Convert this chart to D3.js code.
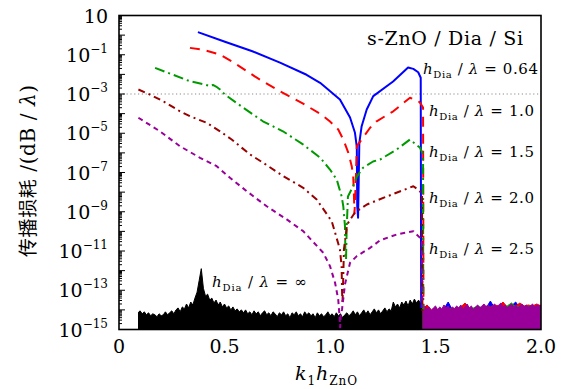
<!DOCTYPE html>
<html><head><meta charset="utf-8">
<script src="https://cdn.jsdelivr.net/npm/d3@7"></script>
<style>body{margin:0;background:#fff}svg{display:block}</style>
</head><body>
<svg id="c" width="569" height="389"></svg>
<script>
// ---- data (loss values given as log10 of dB/λ) ----
const blueK   = [0.374,0.502,0.632,0.763,0.889,0.953,0.991,1.047,1.095,1.118,1.127,1.129,1.133,1.136,1.139,1.150,1.174,1.205,1.299,1.370,1.395,1.418,1.430,1.432];
const blueLog = [0.15,-0.34,-0.82,-1.40,-2.02,-2.43,-2.77,-3.28,-4.20,-4.96,-5.70,-8.72,-9.30,-7.50,-5.49,-4.64,-3.79,-3.11,-2.36,-1.65,-1.72,-1.89,-2.17,-13.9];

const redK   = [0.336,0.392,0.479,0.545,0.653,0.763,0.866,0.960,1.000,1.039,1.063,1.087,1.103,1.110,1.113,1.116,1.122,1.127,1.150,1.190,1.221,1.300,1.379,1.418,1.427,1.441,1.443];
const redLog = [-0.65,-0.73,-0.99,-1.41,-2.17,-2.86,-3.45,-4.05,-4.40,-4.81,-5.32,-6.00,-6.68,-7.19,-8.00,-9.10,-7.50,-5.66,-5.32,-4.72,-4.39,-3.88,-3.19,-3.35,-3.45,-3.69,-13.95];

const greenK   = [0.171,0.336,0.408,0.431,0.445,0.460,0.479,0.502,0.589,0.682,0.777,0.872,0.953,1.000,1.032,1.055,1.063,1.071,1.073,1.076,1.079,1.085,1.109,1.128,1.156,1.204,1.237,1.316,1.379,1.427,1.441,1.442];
const greenLog = [-1.67,-2.35,-2.52,-2.60,-2.54,-2.62,-2.77,-3.03,-3.70,-4.39,-4.90,-5.57,-6.24,-6.85,-7.36,-8.21,-8.72,-9.74,-11.09,-11.43,-9.90,-8.22,-7.71,-7.20,-6.76,-6.44,-6.34,-5.83,-5.32,-5.74,-6.08,-14.0];

const brownK   = [0.092,0.147,0.210,0.289,0.336,0.416,0.479,0.534,0.621,0.684,0.779,0.873,0.937,0.992,1.008,1.024,1.047,1.055,1.057,1.059,1.062,1.066,1.081,1.118,1.175,1.270,1.395,1.417,1.436,1.438];
const brownLog = [-2.77,-3.03,-3.37,-3.88,-4.13,-4.47,-4.90,-5.32,-6.08,-6.51,-7.19,-7.78,-8.38,-9.23,-9.48,-10.06,-10.92,-11.77,-13.00,-13.70,-12.70,-10.92,-9.65,-9.04,-8.63,-8.22,-7.70,-7.87,-8.07,-14.1];

const purpleK   = [0.092,0.194,0.289,0.384,0.463,0.526,0.605,0.700,0.795,0.873,0.968,1.000,1.024,1.039,1.045,1.048,1.051,1.057,1.071,1.095,1.127,1.190,1.237,1.316,1.395,1.427,1.436,1.438];
const purpleLog = [-4.21,-4.90,-5.66,-6.25,-6.68,-7.27,-7.95,-8.72,-9.39,-9.99,-11.09,-11.77,-12.62,-13.47,-14.30,-14.90,-14.30,-13.98,-12.70,-11.60,-11.26,-10.84,-10.46,-10.16,-9.99,-10.33,-10.52,-13.9];

// numerical-noise floor for h_Dia/λ = ∞ (x from 0.09 in steps of 0.01)
const blackNoiseStart = 0.09, blackNoiseStep = 0.01;
const blackNoiseLog = [
-14.15,-14.05,-14.2,-14.1,-14.25,-14.15,-14.3,-14.2,-14.25,-14.35,
-14.2,-14.3,-14.25,-14.1,-14.25,-14.15,-14.05,-14.2,-14.0,-13.9,
-14.1,-13.85,-13.95,-13.7,-13.9,-13.6,-13.75,-13.4,-13.1,-12.5,
-11.9,-12.9,-13.3,-13.2,-13.5,-13.4,-13.65,-13.5,-13.75,-13.6,
-13.85,-13.7,-13.9,-13.8,-14.0,-13.85,-14.05,-13.95,-14.1,-14.0,
-14.15,-14.0,-14.2,-14.1,-14.25,-14.05,-14.2,-14.1,-14.3,-14.15,
-14.05,-14.25,-14.15,-14.3,-14.1,-14.2,-14.35,-14.15,-14.25,-14.1,
-14.3,-14.2,-14.4,-14.15,-14.25,-14.1,-14.3,-14.2,-14.35,-14.1,
-14.25,-14.15,-14.3,-14.2,-14.4,-14.15,-14.3,-14.2,-14.35,-14.25,
-14.1,-14.3,-14.2,-14.35,-14.15,-14.3,-14.2,-14.4,-14.25,-14.15,
-14.3,-14.2,-14.05,-14.25,-14.1,-14.3,-14.15,-14.0,-14.2,-14.05,
-14.25,-14.1,-13.95,-14.15,-14.0,-14.2,-14.05,-13.9,-14.1,-13.95,
-14.05,-13.6,-13.85,-13.7,-13.9,-13.6,-13.75,-13.55,-13.8,-13.5,
-13.7,-13.45,-13.65,-13.5,-13.7,-13.6];

// noise floors beyond cut-off (x from 1.44)
const tailStart = 1.44;
const purpleTailStep = 0.01;
const purpleTailLog = [
-13.9,-13.8,-13.95,-13.85,-14.05,-13.9,-13.8,-14.0,-13.85,-13.95,
-13.75,-13.9,-13.8,-14.0,-13.85,-13.95,-13.8,-13.9,-13.75,-13.95,
-13.85,-13.7,-13.9,-13.8,-14.0,-13.85,-13.75,-13.9,-13.8,-13.7,
-13.85,-13.75,-13.9,-13.8,-13.7,-13.85,-13.75,-13.65,-13.85,-13.75,
-13.9,-13.8,-13.7,-13.85,-13.75,-13.9,-13.8,-13.7,-13.85,-13.75,
-13.85,-13.8,-13.7,-13.85,-13.75,-13.8,-13.75];
const otherTailStep = 0.02;
const blueTailLog  = [-13.9,-14.0,-14.1,-14.0,-14.1,-13.95,-13.6,-14.0,-14.05,-13.9,-14.0,-13.95,-14.1,-13.9,-14.0,-13.9,-13.55,-13.9,-13.85,-13.95,-13.9,-13.8,-13.6,-13.9,-13.85,-13.9,-13.85,-13.9,-13.85];
const redTailLog   = [-13.95,-13.75,-14.0,-13.9,-14.05,-13.9,-14.0,-13.9,-13.95,-13.85,-13.65,-13.9,-13.95,-13.85,-13.9,-13.8,-13.85,-13.75,-13.8,-13.6,-13.85,-13.75,-13.8,-13.65,-13.8,-13.75,-13.8,-13.7,-13.8];
const greenTailLog = [-14.0,-13.95,-14.1,-14.0,-13.95,-14.05,-13.9,-14.0,-13.85,-13.95,-13.9,-14.0,-13.9,-13.8,-13.9,-13.85,-13.9,-13.8,-13.9,-13.85,-13.8,-13.65,-13.85,-13.8,-13.9,-13.8,-13.85,-13.8,-13.85];
const brownTailLog = [-14.1,-14.05,-14.2,-14.1,-14.0,-14.15,-14.0,-14.1,-13.95,-14.05,-14.0,-14.1,-14.0,-13.9,-14.0,-13.95,-14.0,-13.9,-14.0,-13.95,-13.9,-13.85,-13.95,-13.9,-14.0,-13.9,-13.95,-13.9,-13.95];

const yTickExps = [1,-1,-3,-5,-7,-9,-11,-13,-15];
const xTickVals = [0,0.5,1.0,1.5,2.0];
const xTickLabels = ["0","0.5","1.0","1.5","2.0"];
const seriesLabels = ["0.64","1.0","1.5","2.0","2.5"];
const refLineLog = -3;

// ---- layout ----
const X0=119, X1=541, Y0=329.5, Y1=15.5;
const x = d3.scaleLinear().domain([0,2]).range([X0,X1]);
const y = d3.scaleLog().domain([1e-15,10]).range([Y0,Y1]);
const P = v => y(Math.pow(10, v));
const FONT = "'DejaVu Serif', 'Liberation Serif', serif";

const svg = d3.select('#c');
svg.append('defs').append('clipPath').attr('id','clip')
  .append('rect').attr('x',X0).attr('y',Y1).attr('width',X1-X0).attr('height',Y0-Y1);
const plot = svg.append('g').attr('clip-path','url(#clip)');

// reference line at 1e-3
plot.append('line').attr('x1',X0).attr('x2',X1).attr('y1',P(refLineLog)).attr('y2',P(refLineLog))
  .attr('stroke','#8a8a8a').attr('stroke-width',1).attr('stroke-dasharray','1.2,2.6');

const area = d3.area().x(d=>x(d[0])).y0(Y0+6).y1(d=>P(d[1])).curve(d3.curveLinear);
const line = d3.line().x(d=>x(d[0])).y(d=>P(d[1]));

function noisePts(start, step, arr){ return arr.map((v,i)=>[start+step*i, v]); }

// black noise floor
const blackPts = noisePts(blackNoiseStart, blackNoiseStep, blackNoiseLog);
plot.append('path').attr('d', area(blackPts)).attr('fill','#000');
plot.append('path').attr('d', line(blackPts)).attr('fill','none').attr('stroke','#000').attr('stroke-width',1);

const series = [
  {k:blueK, v:blueLog, c:'#0000ff', dash:null, tail:blueTailLog, step:otherTailStep},
  {k:redK, v:redLog, c:'#ff0000', dash:'10,7', tail:redTailLog, step:otherTailStep},
  {k:greenK, v:greenLog, c:'#009a00', dash:'10,4,2,4', tail:greenTailLog, step:otherTailStep},
  {k:brownK, v:brownLog, c:'#990000', dash:'7,4,2,4', tail:brownTailLog, step:otherTailStep},
  {k:purpleK, v:purpleLog, c:'#990099', dash:'5,4', tail:purpleTailLog, step:purpleTailStep}
];

// noise tails beyond cut-off
series.forEach(s=>{
  const pts = noisePts(tailStart, s.step, s.tail);
  plot.append('path').attr('d', area(pts)).attr('fill', s.c);
  plot.append('path').attr('d', line(pts)).attr('fill','none').attr('stroke', s.c).attr('stroke-width',1);
});

// main curves
series.forEach(s=>{
  const pts = s.k.map((k,i)=>[k, s.v[i]]);
  const p = plot.append('path').attr('d', line(pts)).attr('fill','none')
    .attr('stroke', s.c).attr('stroke-width', 2).attr('stroke-linejoin','round');
  if (s.dash) p.attr('stroke-dasharray', s.dash);
});

// ---- axes ----
const axg = svg.append('g');
// y ticks (inward)
for (let e=-15; e<=1; e++){
  for (let m=1; m<=9; m++){
    if (e===1 && m>1) break;
    const v = m*Math.pow(10,e);
    const yy = y(v);
    axg.append('line').attr('x1',X0).attr('x2',X0+(m===1?6:3)).attr('y1',yy).attr('y2',yy)
      .attr('stroke','#000').attr('stroke-width',1);
  }
}
axg.append('rect').attr('x',X0).attr('y',Y1).attr('width',X1-X0).attr('height',Y0-Y1)
  .attr('fill','none').attr('stroke','#000').attr('stroke-width',1.6);

// y tick labels
yTickExps.forEach(e=>{
  const t = axg.append('text').attr('x',108).attr('y',P(e)+7).attr('text-anchor','end')
    .attr('font-family',FONT).attr('font-size',19).attr('fill','#000');
  t.append('tspan').text('10');
  if (e!==1) t.append('tspan').attr('font-size',12).attr('dy',-9).text('\u2212'+Math.abs(e));
});
// x tick labels
xTickVals.forEach((v,i)=>{
  axg.append('text').attr('x',x(v)).attr('y',353).attr('text-anchor','middle')
    .attr('font-family',FONT).attr('font-size',19).text(xTickLabels[i]);
});

// x title
const xt = axg.append('text').attr('x',295).attr('y',380).attr('font-family',FONT).attr('font-size',19)
  .attr('textLength',62).attr('lengthAdjust','spacing');
xt.append('tspan').attr('font-style','italic').text('k');
xt.append('tspan').attr('font-size',12).attr('dy',5).text('1');
xt.append('tspan').attr('font-style','italic').attr('dy',-5).text('h');
xt.append('tspan').attr('font-size',12).attr('dy',5).text('ZnO');

// y title
const yt = axg.append('text').attr('transform','translate(35,171) rotate(-90)').attr('text-anchor','middle')
  .attr('textLength',172).attr('lengthAdjust','spacing');
yt.append('tspan').attr('font-family',"'Noto Sans CJK SC', sans-serif").attr('font-size',19).text('传播损耗');
yt.append('tspan').attr('font-family',FONT).attr('font-size',20).text(' /(dB / ');
yt.append('tspan').attr('font-family',FONT).attr('font-size',20).attr('font-style','italic').text('λ');
yt.append('tspan').attr('font-family',FONT).attr('font-size',20).text(')');

// structure label
axg.append('text').attr('x',367).attr('y',45).attr('font-family',FONT).attr('font-size',19)
  .attr('textLength',156).attr('lengthAdjust','spacing').text('s-ZnO / Dia / Si');

// series labels
function hLabel(xp, yp, val, w){
  const t = axg.append('text').attr('x',xp).attr('y',yp).attr('font-family',FONT).attr('font-size',15)
    .attr('textLength',w).attr('lengthAdjust','spacing');
  t.append('tspan').attr('font-style','italic').text('h');
  t.append('tspan').attr('font-size',10).attr('dy',4).text('Dia');
  t.append('tspan').attr('dy',-4).text(' / ');
  t.append('tspan').attr('font-style','italic').text('λ');
  t.append('tspan').text(' = ' + val);
}
const labelPos = [[423,74,115],[429,116,105],[429,157,105],[429,203,105],[429,254,105]];
seriesLabels.forEach((s,i)=>hLabel(labelPos[i][0], labelPos[i][1], s, labelPos[i][2]));
hLabel(212, 287, '∞', 95);
</script>
</body></html>
